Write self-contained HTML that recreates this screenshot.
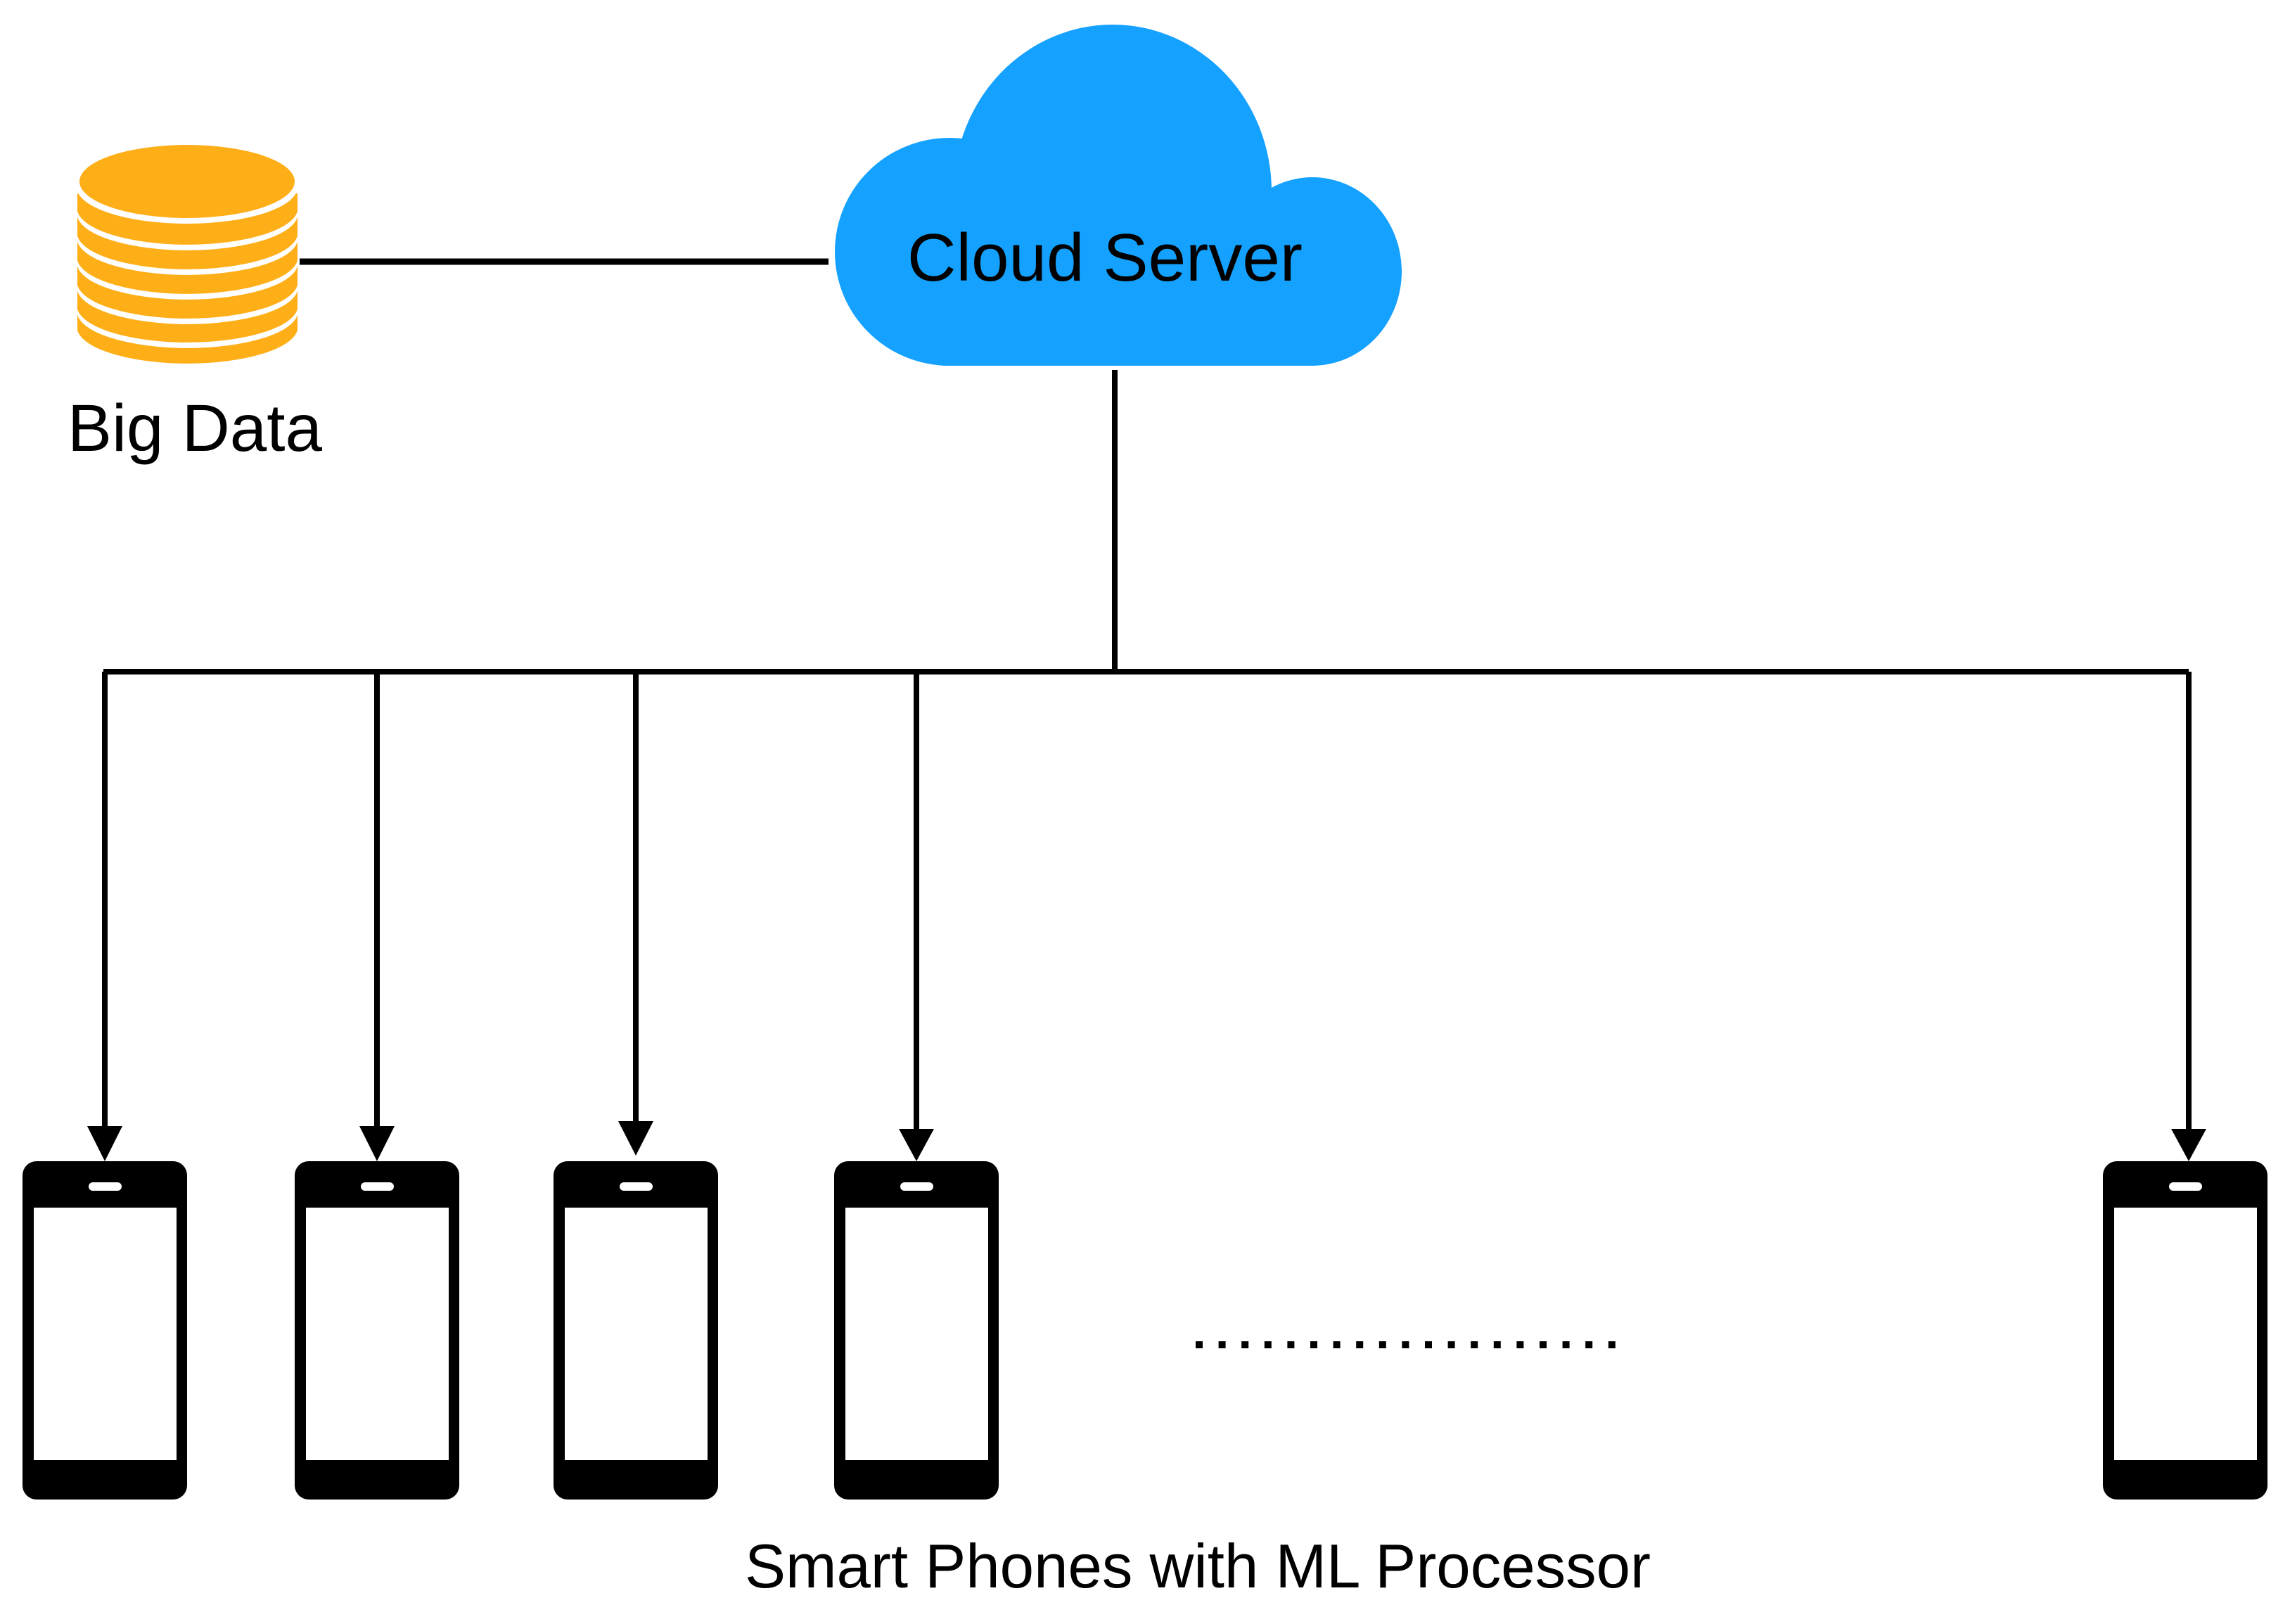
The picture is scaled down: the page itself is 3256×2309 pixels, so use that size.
<!DOCTYPE html>
<html><head><meta charset="utf-8"><style>
html,body{margin:0;padding:0;background:#fff;}
svg{display:block;}
text{font-family:"Liberation Sans",Arial,sans-serif;fill:#000;}
</style></head><body>
<svg width="3256" height="2309" viewBox="0 0 3256 2309" xmlns="http://www.w3.org/2000/svg">
<rect width="3256" height="2309" fill="#fff"/>
<!-- database -->
<g>
  <path d="M110,430 L110,469 A157,52 0 0 0 423,469 L423,430 Z" fill="#FEAE17"/>
  <path d="M110,395 L110,447 A157,52 0 0 0 423,447 L423,395 Z" fill="#fff"/>
  <path d="M110,395 L110,439 A157,52 0 0 0 423,439 L423,395 Z" fill="#FEAE17"/>
  <path d="M110,360 L110,413 A157,52 0 0 0 423,413 L423,360 Z" fill="#fff"/>
  <path d="M110,360 L110,405 A157,52 0 0 0 423,405 L423,360 Z" fill="#FEAE17"/>
  <path d="M110,325 L110,378 A157,52 0 0 0 423,378 L423,325 Z" fill="#fff"/>
  <path d="M110,325 L110,370 A157,52 0 0 0 423,370 L423,325 Z" fill="#FEAE17"/>
  <path d="M110,290 L110,343 A157,52 0 0 0 423,343 L423,290 Z" fill="#fff"/>
  <path d="M110,290 L110,335 A157,52 0 0 0 423,335 L423,290 Z" fill="#FEAE17"/>
  <path d="M110,275 L110,308 A157,52 0 0 0 423,308 L423,275 Z" fill="#fff"/>
  <path d="M110,275 L110,300 A157,52 0 0 0 423,300 L423,275 Z" fill="#FEAE17"/>
  <ellipse cx="266" cy="266" rx="157" ry="52" fill="#fff"/>
  <ellipse cx="266" cy="258" rx="153" ry="52" fill="#FEAE17"/>
</g>
<text x="96" y="641" font-size="95" textLength="362" lengthAdjust="spacingAndGlyphs">Big Data</text>
<!-- db to cloud -->
<line x1="426" y1="372" x2="1178" y2="372" stroke="#000" stroke-width="9"/>
<!-- cloud -->
<g fill="#14A1FF">
  <ellipse cx="1350" cy="358" rx="163" ry="162"/>
  <ellipse cx="1582" cy="272" rx="226" ry="237"/>
  <ellipse cx="1866" cy="386" rx="127" ry="134"/>
  <rect x="1340" y="300" width="530" height="220"/>
</g>
<text x="1290" y="399" font-size="96" textLength="562" lengthAdjust="spacingAndGlyphs">Cloud Server</text>
<!-- connectors -->
<g stroke="#000" stroke-width="8" fill="none">
  <line x1="1585" y1="526" x2="1585" y2="958"/>
  <line x1="147" y1="955" x2="3112" y2="955"/>
  <line x1="149" y1="955" x2="149" y2="1605"/>
  <line x1="536" y1="955" x2="536" y2="1605"/>
  <line x1="904" y1="955" x2="904" y2="1598"/>
  <line x1="1303" y1="955" x2="1303" y2="1605"/>
  <line x1="3112" y1="955" x2="3112" y2="1605"/>
</g>
<g fill="#000">
  <polygon points="124,1601 174,1601 149,1651"/>
  <polygon points="511,1601 561,1601 536,1651"/>
  <polygon points="879,1594 929,1594 904,1643"/>
  <polygon points="1278,1605 1328,1605 1303,1651"/>
  <polygon points="3087,1605 3137,1605 3112,1651"/>
</g>
<!-- phones -->
<defs>
  <g id="ph">
    <rect x="0" y="0" width="234" height="481" rx="20" fill="#000"/>
    <rect x="16" y="66" width="203" height="359" fill="#fff"/>
    <rect x="94" y="30" width="47" height="12" rx="6" fill="#fff"/>
  </g>
</defs>
<use href="#ph" x="32" y="1651"/>
<use href="#ph" x="419" y="1651"/>
<use href="#ph" x="787" y="1651"/>
<use href="#ph" x="1186" y="1651"/>
<use href="#ph" x="2990" y="1651"/>
<!-- dots -->
<line x1="1700" y1="1912" x2="2297" y2="1912" stroke="#000" stroke-width="10" stroke-dasharray="10 22.6"/>
<text x="1059" y="2257" font-size="88" textLength="1288" lengthAdjust="spacingAndGlyphs">Smart Phones with ML Processor</text>
</svg>
</body></html>
